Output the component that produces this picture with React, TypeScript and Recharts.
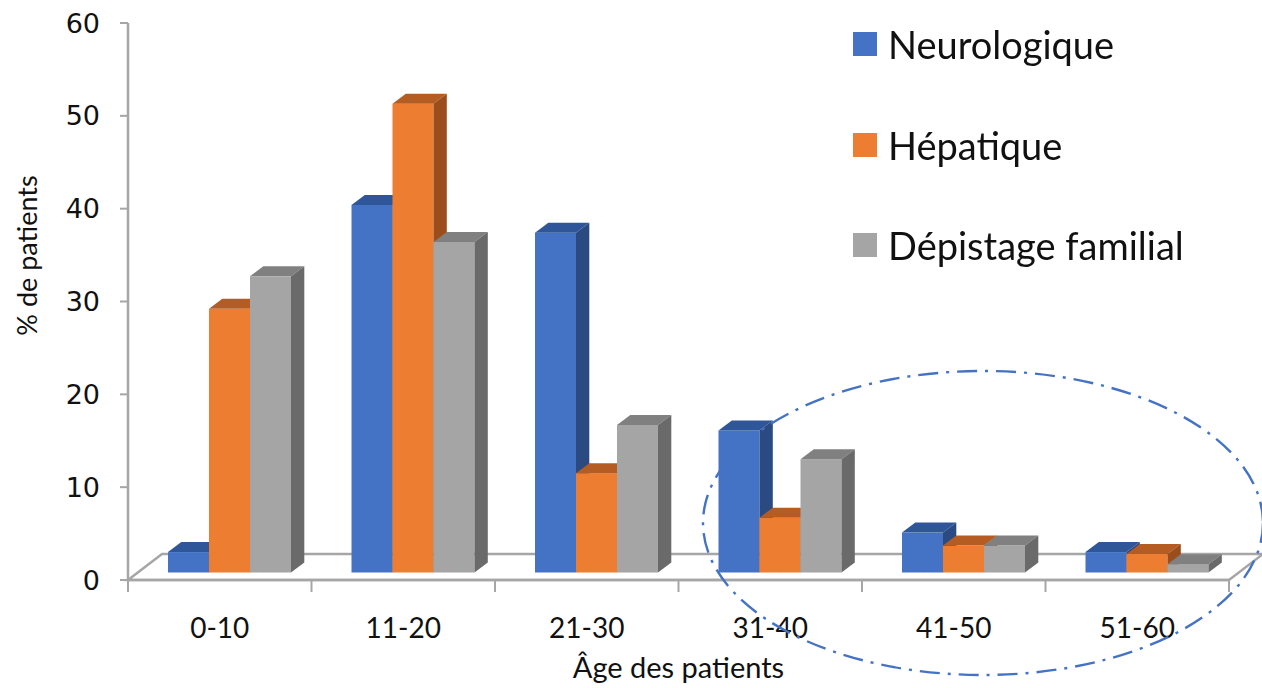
import React from 'react';
import { BarChart, Bar, XAxis, YAxis, ReferenceArea } from 'recharts';

const ageGroups = ['0-10', '11-20', '21-30', '31-40', '41-50', '51-60'];
const neurologique = [2.2, 39.6, 36.6, 15.3, 4.3, 2.2];
const hepatique = [28.4, 50.5, 10.7, 5.9, 2.9, 2.0];
const depistage = [31.9, 35.6, 15.9, 12.2, 2.9, 0.9];
const yTicks = [0, 10, 20, 30, 40, 50, 60];

const series = [
    { key: 'neuro', name: 'Neurologique', fill: '#4472C4', top: '#30569A', side: '#2B4A82' },
    { key: 'hep', name: 'Hépatique', fill: '#ED7D31', top: '#B45C22', side: '#9B4D1B' },
    { key: 'dep', name: 'Dépistage familial', fill: '#A5A5A5', top: '#808080', side: '#6A6A6A' }
];

const data = ageGroups.map((age, i) => ({
    age,
    neuro: neurologique[i],
    hep: hepatique[i],
    dep: depistage[i]
}));

const chartW = 1262;
const chartH = 688;
const margin = { top: 23, right: 33, bottom: 48, left: 68 };
const yAxisW = 60;
const halfBand = (chartW - margin.left - margin.right - yAxisW) / ageGroups.length / 2;

const axisGrey = '#A6A6A6';
const tickFont = '"DejaVu Sans", sans-serif';
const labelFont = 'Lato, "Open Sans", sans-serif';

// oblique 3D look: bars sit a bit back on the floor
const planeX = 10;
const planeY = -7.5;
const depthX = 13.3;
const depthY = 10;
const floorX = 34;
const floorY = 26;

const make3DBar = (topColor: string, sideColor: string) => (props: any) => {
    const { x, y, width, height, fill } = props;
    if (!height || height <= 0) return <g />;
    const fx = x + planeX;
    const fy = y + planeY;
    const top = `${fx},${fy} ${fx + width},${fy} ${fx + width + depthX},${fy - depthY} ${fx + depthX},${fy - depthY}`;
    const side = `${fx + width},${fy} ${fx + width + depthX},${fy - depthY} ${fx + width + depthX},${fy + height - depthY} ${fx + width},${fy + height}`;
    return (
        <g>
            <rect x={fx} y={fy} width={width} height={height} fill={fill} />
            <polygon points={top} fill={topColor} />
            <polygon points={side} fill={sideColor} />
        </g>
    );
};

const renderFloor = (props: any) => {
    const { x, y, width, height } = props;
    const b = y + height;
    const pts = `${x},${b} ${x + width},${b} ${x + width + floorX},${b - floorY} ${x + floorX},${b - floorY}`;
    return <polygon points={pts} fill="#FFFFFF" stroke={axisGrey} strokeWidth={2.5} />;
};

// category labels plus the tick marks between categories
const renderAgeTick = (props: any) => {
    const { x, y, payload, index } = props;
    const last = index === ageGroups.length - 1;
    return (
        <g>
            <line x1={x - halfBand} x2={x - halfBand} y1={y} y2={y + 12} stroke={axisGrey} strokeWidth={2} />
            {last && <line x1={x + halfBand} x2={x + halfBand} y1={y} y2={y + 12} stroke={axisGrey} strokeWidth={2} />}
            <text x={x} y={y + 58} textAnchor="middle" fontFamily={labelFont} fontSize={28} fill="#111">
                {payload.value}
            </text>
        </g>
    );
};

const renderYTitle = (props: any) => {
    const { viewBox } = props;
    const cx = 26;
    const cy = viewBox.y + viewBox.height / 2 - 46;
    return (
        <text x={cx} y={cy} transform={`rotate(-90 ${cx} ${cy})`} textAnchor="middle" dominantBaseline="central"
            fontFamily={labelFont} fontSize={27} fill="#111">
            % de patients
        </text>
    );
};

export default function App() {
    return (
        <div style={{ position: 'fixed', left: 0, top: 0, width: chartW, height: chartH, background: '#fff' }}>
            <BarChart width={chartW} height={chartH} data={data} barCategoryGap={30} barGap={0} margin={margin}>
                <XAxis dataKey="age" height={60} tickLine={false} tickSize={0} tickMargin={0}
                    axisLine={{ stroke: axisGrey, strokeWidth: 2.5 }} tick={renderAgeTick} interval={0}
                    label={{ value: 'Âge des patients', position: 'bottom', offset: 17, fontFamily: labelFont, fontSize: 29, fill: '#111' }} />
                <YAxis domain={[0, 60]} ticks={yTicks} width={yAxisW} tickSize={8} tickMargin={20}
                    axisLine={{ stroke: axisGrey, strokeWidth: 2.5 }} tickLine={{ stroke: axisGrey, strokeWidth: 2 }}
                    tick={{ fontFamily: tickFont, fontSize: 27, fill: '#111' }}
                    label={{ content: renderYTitle }} />
                <ReferenceArea y1={0} y2={60} shape={renderFloor} />
                {series.map((s) => (
                    <Bar key={s.key} dataKey={s.key} name={s.name} fill={s.fill} isAnimationActive={false}
                        shape={make3DBar(s.top, s.side)} />
                ))}
            </BarChart>
            <div style={{ position: 'absolute', left: 853, top: -6, fontFamily: labelFont }}>
                {series.map((s) => (
                    <div key={s.key} style={{ display: 'flex', alignItems: 'center', height: 100.5 }}>
                        <div style={{ width: 24, height: 24, background: s.fill, marginRight: 11 }} />
                        <span style={{ fontSize: 38, color: '#111' }}>{s.name}</span>
                    </div>
                ))}
            </div>
            <svg width={chartW} height={chartH} style={{ position: 'absolute', left: 0, top: 0, pointerEvents: 'none' }}>
                <ellipse cx={983} cy={523} rx={280} ry={152} fill="none" stroke="#4472C4" strokeWidth={2.4}
                    strokeDasharray="20 8 3 8" />
            </svg>
        </div>
    );
}
